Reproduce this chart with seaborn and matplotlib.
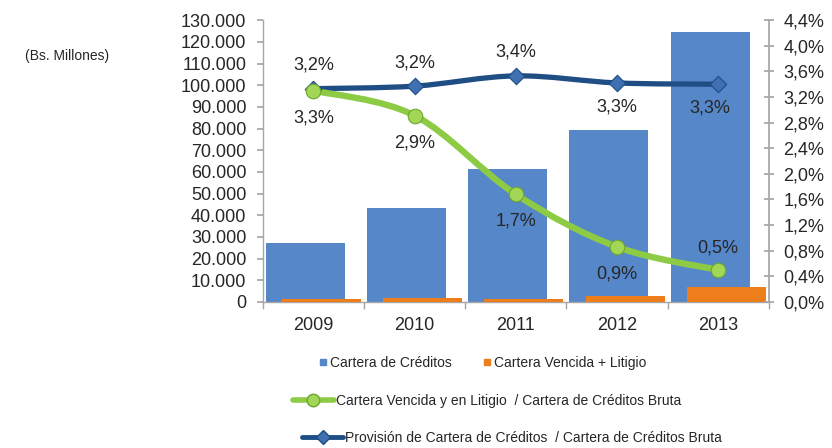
import numpy as np
import matplotlib
matplotlib.use("Agg")
import matplotlib.pyplot as plt
import seaborn as sns
from matplotlib.path import Path
from matplotlib.patches import PathPatch
from matplotlib.lines import Line2D
from matplotlib.ticker import FuncFormatter

# Datos
anios = ["2009", "2010", "2011", "2012", "2013"]
cartera_creditos = [27000, 43500, 61200, 79100, 124400]
cartera_vencida = [1300, 1900, 1300, 2900, 6900]
ratio_vencida = [3.30, 2.91, 1.68, 0.86, 0.50]
ratio_vencida_txt = ["3,3%", "2,9%", "1,7%", "0,9%", "0,5%"]
ratio_provision = [3.33, 3.37, 3.53, 3.42, 3.40]
ratio_provision_txt = ["3,2%", "3,2%", "3,4%", "3,3%", "3,3%"]

# Estilo
sns.set_theme(style="white")
plt.rcParams['font.family'] = ['Liberation Sans', 'DejaVu Sans']

AZUL = "#5587C9"
NARANJA = "#EE7D1B"
VERDE = "#8DCB45"
MARINO = "#1F4E85"
GRIS = "#A6A6A6"


def curva_suave(xs, ys):
    """Curva tipo Excel (Catmull-Rom -> Bezier)"""
    pts = np.column_stack([xs, ys]).astype(float)
    n = len(pts)
    verts = [pts[0]]
    codes = [Path.MOVETO]
    for i in range(n - 1):
        p0 = pts[i - 1] if i > 0 else pts[i]
        p1, p2 = pts[i], pts[i + 1]
        p3 = pts[i + 2] if i + 2 < n else pts[i + 1]
        verts += [p1 + (p2 - p0) / 6, p2 - (p3 - p1) / 6, p2]
        codes += [Path.CURVE4] * 3
    return Path(verts, codes)


fig = plt.figure(figsize=(8.32, 4.48), dpi=100)
ax = fig.add_axes([0.316, 0.326, 0.608, 0.629])
x = np.arange(len(anios))

# Barras
sns.barplot(x=x - 0.08, y=cartera_creditos, native_scale=True, width=0.78,
            color=AZUL, saturation=1, errorbar=None, linewidth=0, ax=ax, zorder=2)
sns.barplot(x=x + 0.08, y=cartera_vencida, native_scale=True, width=0.78,
            color=NARANJA, saturation=1, errorbar=None, linewidth=0, ax=ax, zorder=3)

ax.set_xlim(-0.5, len(anios) - 0.5)
ax.set_ylim(0, 130000)
ax.set_yticks(np.arange(0, 130001, 10000))
ax.yaxis.set_major_formatter(FuncFormatter(lambda v, p: f"{v:,.0f}".replace(",", ".")))
ax.set_xticks(x)
ax.set_xticklabels(anios)
ax.set_xticks(np.arange(-0.5, len(anios)), minor=True)
ax.tick_params(axis="x", which="major", length=0, pad=11, labelsize=13)
ax.tick_params(axis="x", which="minor", length=5, color=GRIS, direction="out", bottom=True)
ax.tick_params(axis="y", length=4, color=GRIS, direction="out", left=True, pad=8, labelsize=13)
ax.set_xlabel("")
ax.set_ylabel("")
for lado in ["top", "right"]:
    ax.spines[lado].set_visible(False)
for lado in ["left", "bottom"]:
    ax.spines[lado].set_color(GRIS)
    ax.spines[lado].set_linewidth(1)

# Eje secundario con los ratios
ax2 = ax.twinx()
ax2.set_ylim(0, 4.4)
ax2.set_yticks(np.arange(0, 4.41, 0.4))
ax2.yaxis.set_major_formatter(FuncFormatter(lambda v, p: f"{v:.1f}%".replace(".", ",")))
ax2.tick_params(axis="y", length=7, color=GRIS, direction="inout", right=True, pad=7, labelsize=13)
for lado in ["top", "left", "bottom"]:
    ax2.spines[lado].set_visible(False)
ax2.spines["right"].set_color(GRIS)

ax2.add_patch(PathPatch(curva_suave(x, ratio_provision), fill=False, edgecolor=MARINO,
                        lw=3.8, capstyle="round", zorder=3))
ax2.add_patch(PathPatch(curva_suave(x, ratio_vencida), fill=False, edgecolor=VERDE,
                        lw=4.6, capstyle="round", zorder=4))
sns.scatterplot(x=x, y=ratio_provision, marker="D", s=70, color="#3E70B2",
                edgecolor=MARINO, linewidth=0.8, ax=ax2, zorder=5)
sns.scatterplot(x=x, y=ratio_vencida, marker="o", s=110, color="#A2D656",
                edgecolor="#6FA52E", linewidth=0.8, ax=ax2, zorder=6)
ax2.set_xlim(-0.5, len(anios) - 0.5)

# Etiquetas de datos
for i in range(len(anios)):
    if i < 3:
        dy, dx = 17, 0
    else:
        dy, dx = -17, (-6 if i == 4 else 0)
    ax2.annotate(ratio_provision_txt[i], (x[i], ratio_provision[i]), xytext=(dx, dy),
                 textcoords="offset points", ha="center", va="center", fontsize=13)
    dyv = 16 if i == 4 else -19.5
    ax2.annotate(ratio_vencida_txt[i], (x[i], ratio_vencida[i]), xytext=(0, dyv),
                 textcoords="offset points", ha="center", va="center", fontsize=13)

fig.text(0.030, 0.875, "(Bs. Millones)", fontsize=10, va="center", ha="left")

# Leyendas
h1 = [Line2D([], [], marker="s", linestyle="none", markersize=4.5, color=AZUL),
      Line2D([], [], marker="s", linestyle="none", markersize=4.5, color=NARANJA)]
leg1 = fig.legend(h1, ["Cartera de Créditos", "Cartera Vencida + Litigio"], ncol=2,
                  loc="center", bbox_to_anchor=(0.58, 0.19), frameon=False, fontsize=10,
                  handlelength=0.6, handletextpad=0.2, columnspacing=2.2)
h2 = [Line2D([], [], color=VERDE, lw=4, marker="o", markersize=9,
             markerfacecolor="#A2D656", markeredgecolor="#6FA52E")]
leg2 = fig.legend(h2, ["Cartera Vencida y en Litigio  / Cartera de Créditos Bruta"],
                  loc="center", bbox_to_anchor=(0.585, 0.105), frameon=False, fontsize=10,
                  handlelength=3.0, handletextpad=0.1)
h3 = [Line2D([], [], color=MARINO, lw=3.5, marker="D", markersize=7,
             markerfacecolor="#3E70B2", markeredgecolor=MARINO)]
leg3 = fig.legend(h3, ["Provisión de Cartera de Créditos  / Cartera de Créditos Bruta"],
                  loc="center", bbox_to_anchor=(0.615, 0.022), frameon=False, fontsize=10,
                  handlelength=3.0, handletextpad=0.1)

fig.savefig("out.png", dpi=100)
